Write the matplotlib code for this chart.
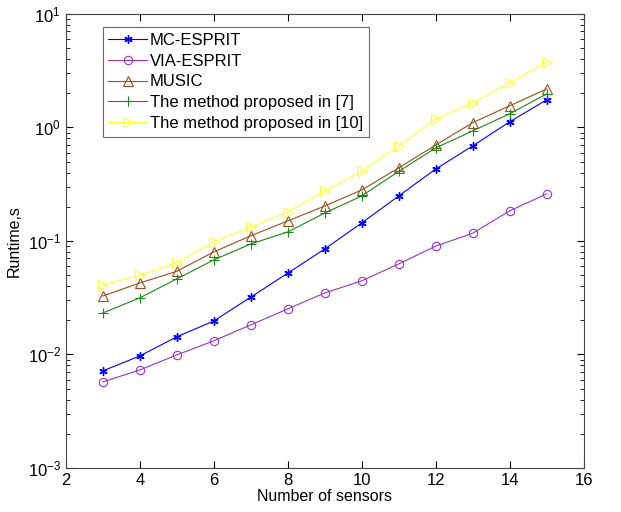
import matplotlib
matplotlib.use("Agg")
import matplotlib.pyplot as plt
from matplotlib.ticker import LogLocator, NullFormatter

plt.rcParams['font.family'] = ['Liberation Sans', 'DejaVu Sans']

sensors = [3, 4, 5, 6, 7, 8, 9, 10, 11, 12, 13, 14, 15]
mc_esprit = [0.00716, 0.0097, 0.0143, 0.0197, 0.032, 0.052, 0.085, 0.144, 0.249, 0.43, 0.687, 1.12, 1.75]
via_esprit = [0.00573, 0.0073, 0.0099, 0.0132, 0.0182, 0.0252, 0.0348, 0.0445, 0.0627, 0.090, 0.117, 0.184, 0.26]
music = [0.0327, 0.0426, 0.054, 0.080, 0.111, 0.150, 0.203, 0.281, 0.44, 0.70, 1.10, 1.55, 2.18]
method7 = [0.0232, 0.0315, 0.0463, 0.068, 0.094, 0.12, 0.176, 0.249, 0.41, 0.66, 0.93, 1.32, 1.97]
method10 = [0.041, 0.050, 0.064, 0.098, 0.133, 0.18, 0.276, 0.41, 0.69, 1.19, 1.64, 2.47, 3.77]

labels = ['MC-ESPRIT', 'VIA-ESPRIT', 'MUSIC', 'The method proposed in [7]', 'The method proposed in [10]']

fig = plt.figure(figsize=(6.21, 5.12), dpi=100)
ax = fig.add_axes([0.106, 0.086, 0.834, 0.887])

ax.semilogy(sensors, mc_esprit, '-', marker=(6, 2, 0), color='#0000ff', lw=0.8, ms=6, mew=1.0, label=labels[0])
ax.semilogy(sensors, via_esprit, '-o', color='#9933cc', lw=0.8, ms=6, mfc='none', mew=0.8, label=labels[1])
ax.semilogy(sensors, music, '-^', color='#9c4f1c', lw=0.8, ms=7, mfc='none', mew=0.8, label=labels[2])
ax.semilogy(sensors, method7, '-+', color='#1a8a1a', lw=0.8, ms=7, mew=0.8, label=labels[3])
ax.semilogy(sensors, method10, '->', color='#ffff33', lw=0.8, ms=7, mfc='none', mew=0.8, label=labels[4])

ax.set_xlim(2, 16)
ax.set_ylim(1e-3, 1e1)
ax.set_xticks([2, 4, 6, 8, 10, 12, 14, 16])
ax.yaxis.set_major_locator(LogLocator(base=10, numticks=10))
ax.yaxis.set_minor_locator(LogLocator(base=10, subs=range(2, 10), numticks=50))
ax.yaxis.set_minor_formatter(NullFormatter())
ax.tick_params(which='both', direction='in', top=True, right=True, labelsize=12)
ax.tick_params(which='major', length=5)
ax.tick_params(which='minor', length=3)
for s in ax.spines.values():
    s.set_linewidth(0.8)
    s.set_color('#444444')

ax.set_xlabel('Number of sensors', fontsize=11.5, labelpad=1)
ax.set_ylabel('Runtime,s', fontsize=11.5)

leg = ax.legend(loc='upper left', bbox_to_anchor=(0.071, 0.971), fontsize=12, frameon=True,
                fancybox=False, edgecolor='#444444', borderpad=0.35, labelspacing=0.35,
                handlelength=2.3, handletextpad=0.2, borderaxespad=0)
leg.get_frame().set_linewidth(0.8)

fig.savefig('out.png', dpi=100)
